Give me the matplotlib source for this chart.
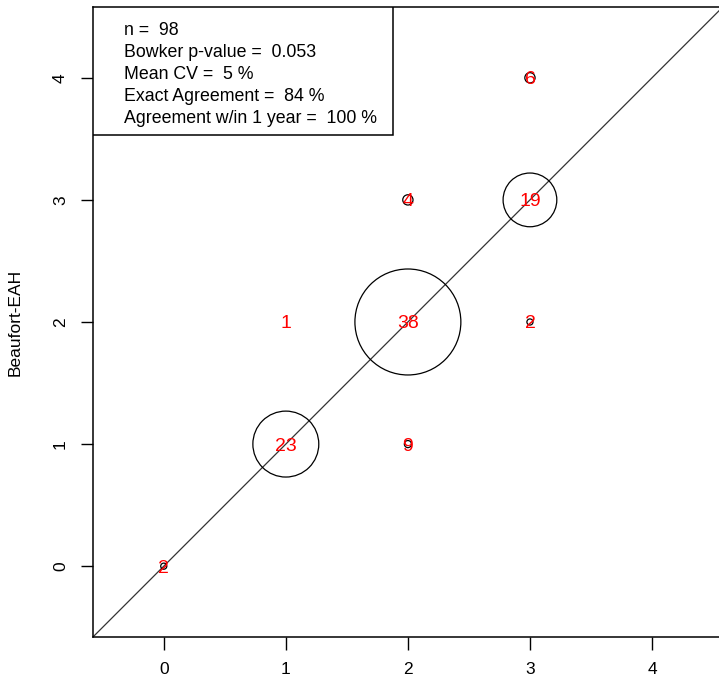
import matplotlib
matplotlib.use("Agg")
import matplotlib.pyplot as plt
from matplotlib.patches import Circle

plt.rcParams["font.family"] = ["Liberation Sans", "DejaVu Sans"]

# cell data: reference age (x), Beaufort-EAH age (y), count, bubble radius (data units)
ref_age = [0, 1, 1, 2, 2, 2, 3, 3, 3]
eah_age = [0, 1, 2, 1, 2, 3, 2, 3, 4]
counts = [2, 23, 1, 9, 38, 4, 2, 19, 6]
bubble_r = [0.025, 0.27, 0.0, 0.029, 0.434, 0.042, 0.025, 0.22, 0.042]

ticks = [0, 1, 2, 3, 4]
stats_lines = [
    "n =  98",
    "Bowker p-value =  0.053",
    "Mean CV =  5 %",
    "Exact Agreement =  84 %",
    "Agreement w/in 1 year =  100 %",
]

fig = plt.figure(figsize=(7.19, 6.85), dpi=100)
ax = fig.add_axes([0.1293, 0.0701, 0.876, 0.9197])
ax.set_xlim(-0.58, 4.58)
ax.set_ylim(-0.58, 4.58)

# 1:1 line
ax.axline((0, 0), slope=1, color="#333333", lw=0.9, zorder=1)

for x, y, n, r in zip(ref_age, eah_age, counts, bubble_r):
    if r > 0:
        ax.add_patch(Circle((x, y), r, facecolor="none", edgecolor="black",
                            lw=0.9, zorder=2))
    ax.text(x, y, str(n), color="red", ha="center", va="center_baseline",
            fontsize=14, zorder=3)

ax.set_xticks(ticks)
ax.set_yticks(ticks)
ax.tick_params(length=9, width=1, labelsize=12.5, pad=9)
for lab in ax.get_yticklabels():
    lab.set_rotation(90)
    lab.set_va("center")
ax.set_ylabel("Beaufort-EAH", fontsize=12.5, labelpad=22)
for s in ax.spines.values():
    s.set_linewidth(1.1)

# stats box
box_w = (393 - 93) / 630
box_h = (135 - 7) / 630
ax.add_patch(plt.Rectangle((0, 1 - box_h), box_w, box_h, transform=ax.transAxes,
                           facecolor="white", edgecolor="black", lw=1.1, zorder=4))
ax.text(0.049, 0.976, "\n".join(stats_lines), transform=ax.transAxes,
        ha="left", va="top", fontsize=12.8, linespacing=1.38, zorder=5)

fig.savefig("out.png", dpi=100)
